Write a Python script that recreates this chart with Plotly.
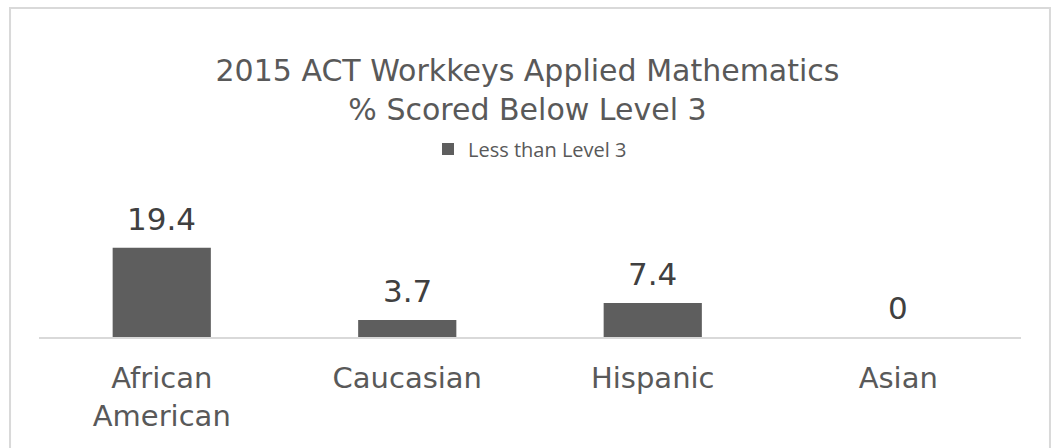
import plotly.graph_objects as go

categories = ["African<br>American", "Caucasian", "Hispanic", "Asian"]
values = [19.4, 3.7, 7.4, 0]
value_labels = ["19.4", "3.7", "7.4", "0"]
series_name = "Less than Level 3"

fig = go.Figure()
fig.add_trace(go.Bar(
    x=categories, y=values, name=series_name,
    marker=dict(color="#5e5e5e", line=dict(width=0)),
    showlegend=True,
))

for c, v, t in zip(categories, values, value_labels):
    fig.add_annotation(
        x=c, y=v, text=t, showarrow=False, xanchor="center", yanchor="bottom",
        yshift=9, font=dict(family="DejaVu Sans", size=31, color="#404040"),
    )

fig.update_layout(
    width=1055, height=448,
    margin=dict(l=39, r=34, t=222, b=111),
    paper_bgcolor="white", plot_bgcolor="white",
    bargap=0.6,
    title=dict(
        text="2015 ACT Workkeys Applied Mathematics<br>% Scored Below Level 3",
        x=0.5, xanchor="center", y=0.82, yanchor="middle",
        font=dict(family="DejaVu Sans", size=30, color="#595959"),
    ),
    legend=dict(
        orientation="h", x=0.5, xanchor="center", y=1.635, yanchor="middle",
        font=dict(family="Open Sans", size=20, color="#595959"),
        itemwidth=30,
    ),
    xaxis=dict(
        showgrid=False, showline=True, linecolor="#d9d9d9", linewidth=2,
        ticks="", ticklabelstandoff=14,
        tickfont=dict(family="DejaVu Sans", size=29, color="#595959"),
    ),
    yaxis=dict(range=[0, 25], visible=False, showgrid=False, zeroline=False),
    shapes=[dict(
        type="rect", xref="paper", yref="paper",
        x0=-0.0295, x1=1.0295, y0=-1.0, y1=2.861,
        line=dict(color="#d9d9d9", width=2), fillcolor="rgba(0,0,0,0)",
        layer="below",
    )],
)

fig.write_html(
    "out.html",
    config={"displayModeBar": False},
    post_script="document.body.style.margin='0px';document.body.style.overflow='hidden';",
)
